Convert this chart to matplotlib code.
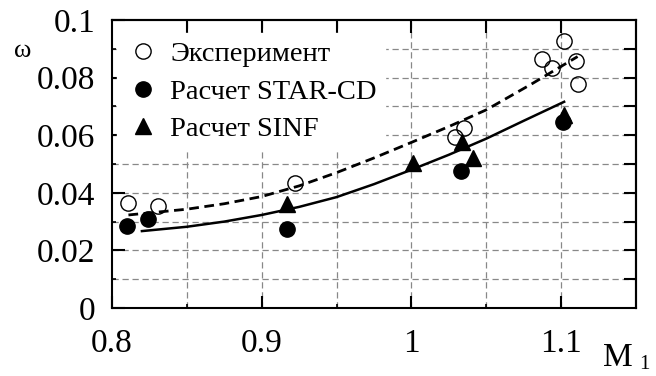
import matplotlib
matplotlib.use('Agg')
import matplotlib.pyplot as plt

# Experimental points (open circles)
exp_m = [0.811, 0.831, 0.922, 1.029, 1.035, 1.087, 1.094, 1.102, 1.110, 1.111]
exp_w = [0.0364, 0.0354, 0.0435, 0.0595, 0.0624, 0.0865, 0.0832, 0.0928, 0.0859, 0.0777]

# STAR-CD calculation (filled circles)
star_m = [0.810, 0.824, 0.917, 1.033, 1.101]
star_w = [0.0285, 0.0308, 0.0273, 0.0475, 0.0646]

# SINF calculation (triangles)
sinf_m = [0.917, 1.001, 1.034, 1.041, 1.102]
sinf_w = [0.0362, 0.0502, 0.0578, 0.0521, 0.0670]

# trend curves
dash_m = [0.811, 0.85, 0.875, 0.90, 0.925, 0.95, 0.975, 1.00, 1.025, 1.05, 1.08, 1.111]
dash_w = [0.0323, 0.0343, 0.0362, 0.0387, 0.0424, 0.0470, 0.0521, 0.0575, 0.0630, 0.0688, 0.0777, 0.0873]
solid_m = [0.820, 0.85, 0.875, 0.90, 0.925, 0.95, 0.975, 1.00, 1.025, 1.05, 1.075, 1.102]
solid_w = [0.0267, 0.0282, 0.0300, 0.0323, 0.0351, 0.0385, 0.0430, 0.0480, 0.0532, 0.0588, 0.0650, 0.0716]

labels = ['Эксперимент', 'Расчет STAR-CD', 'Расчет SINF']
x_ticks = [0.8, 0.9, 1.0, 1.1]
x_labels = ['0.8', '0.9', '1', '1.1']
y_ticks = [0, 0.02, 0.04, 0.06, 0.08, 0.1]
y_labels = ['0', '0.02', '0.04', '0.06', '0.08', '0.1']

FONT = 'Liberation Serif'

fig = plt.figure(figsize=(6.56, 3.76), dpi=100)
ax = fig.add_axes([0.1707, 0.1809, 0.7988, 0.7659])

ax.set_xlim(0.8, 1.15)
ax.set_ylim(0, 0.1)

# dashed grid
for gx in [0.85, 0.9, 0.95, 1.0, 1.05, 1.1]:
    ax.axvline(gx, color='#888888', lw=0.9, ls=(0, (5, 3)), zorder=0)
for gy in [0.01, 0.02, 0.03, 0.04, 0.05, 0.06, 0.07, 0.08, 0.09]:
    ax.axhline(gy, color='#888888', lw=0.9, ls=(0, (5, 3)), zorder=0)

ax.plot(dash_m, dash_w, color='black', lw=2, ls=(0, (3.5, 2)), zorder=2)
ax.plot(solid_m, solid_w, color='black', lw=1.8, zorder=2)

h1, = ax.plot(exp_m, exp_w, 'o', ms=11, mfc='none', mec='black', mew=1, zorder=3)
h2, = ax.plot(star_m, star_w, 'o', ms=11, color='black', zorder=3)
h3, = ax.plot(sinf_m, sinf_w, '^', ms=11, color='black', zorder=4)

leg = ax.legend([h1, h2, h3], labels, loc='upper left', bbox_to_anchor=(0.005, 0.965),
                prop={'family': FONT, 'size': 20.5},
                frameon=True, facecolor='white', edgecolor='white', framealpha=1,
                borderaxespad=0.1, handletextpad=0.35, labelspacing=0.4,
                handlelength=1.2, borderpad=0.3)
leg.set_zorder(5)

# ticks
ax.set_xticks(x_ticks)
ax.set_xticklabels(x_labels, family=FONT, fontsize=24)
ax.set_xticks([0.85, 0.95, 1.05], minor=True)
ax.set_yticks(y_ticks)
ax.set_yticklabels(y_labels, family=FONT, fontsize=24)
ax.set_yticks([0.01, 0.03, 0.05, 0.07, 0.09], minor=True)
ax.tick_params(which='major', direction='in', length=9, width=1.5, pad=15)
ax.tick_params(which='minor', direction='in', length=3, width=1.2)
ax.tick_params(axis='y', which='major', pad=12)

top = ax.secondary_xaxis('top')
top.set_xticks([0.85, 0.9, 0.95, 1.0, 1.05, 1.1])
top.tick_params(direction='in', length=9, width=1.5, labeltop=False)
right = ax.secondary_yaxis('right')
right.set_yticks([0.01, 0.02, 0.03, 0.04, 0.05, 0.06, 0.07, 0.08, 0.09])
right.tick_params(direction='in', length=9, width=1.5, labelright=False)

for s in ax.spines.values():
    s.set_linewidth(1.5)
top.spines['top'].set_linewidth(1.5)
right.spines['right'].set_linewidth(1.5)

fig.text(0.034, 0.865, 'ω', fontsize=19, family=FONT, ha='center', va='center')
fig.text(0.942, 0.048, 'M', fontsize=24, family=FONT, ha='center', va='center')
fig.text(0.982, 0.03, '1', fontsize=15, family=FONT, ha='center', va='center')

fig.savefig('out.png', dpi=100)
